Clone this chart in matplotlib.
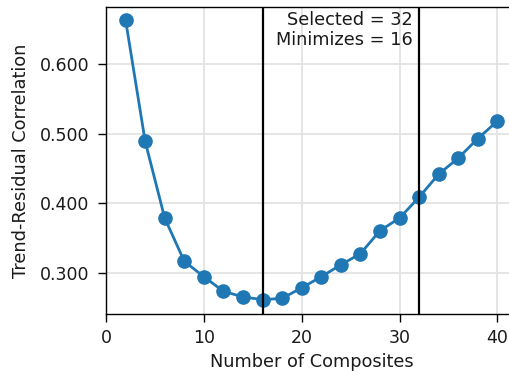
import matplotlib
matplotlib.use("Agg")
import matplotlib.pyplot as plt

n_composites = [2, 4, 6, 8, 10, 12, 14, 16, 18, 20, 22, 24, 26, 28, 30, 32, 34, 36, 38, 40]
correlation = [0.663, 0.489, 0.379, 0.317, 0.295, 0.274, 0.266, 0.262, 0.264, 0.279,
               0.295, 0.312, 0.328, 0.361, 0.379, 0.409, 0.442, 0.465, 0.493, 0.518]
selected = 32
minimizes = 16
x_ticks = [0, 10, 20, 30, 40]
y_ticks = [0.3, 0.4, 0.5, 0.6]

fig = plt.figure(figsize=(5.10, 3.73), dpi=100)
ax = fig.add_axes([106/510, 59/373, 411/510, 307/373])

ax.grid(True, color="#e3e3e3", linewidth=1.3, zorder=0)
ax.plot(n_composites, correlation, "-o", color="#1f77b4", linewidth=2.0,
        markersize=9.5, zorder=3)
ax.axvline(minimizes, color="black", linewidth=1.6, zorder=4)
ax.axvline(selected, color="black", linewidth=1.6, zorder=4)

ax.text(31.3, 0.676, f"Selected = {selected}\nMinimizes = {minimizes}",
        ha="right", va="top", fontsize=12.8, linespacing=1.15, color="#1a1a1a",
        zorder=5)

ax.set_xlim(0, 42)
ax.set_ylim(0.2415, 0.6815)
ax.set_xticks(x_ticks)
ax.set_yticks(y_ticks)
ax.set_yticklabels([f"{v:.3f}" for v in y_ticks])
ax.tick_params(labelsize=12.5, length=6, width=1, pad=5, labelcolor="#1a1a1a")
ax.tick_params(axis="y", pad=6)
ax.set_xlabel("Number of Composites", fontsize=12.8, labelpad=4, color="#1a1a1a")
ax.set_ylabel("Trend-Residual Correlation", fontsize=12.8, labelpad=7, color="#1a1a1a")
for s in ax.spines.values():
    s.set_linewidth(1.0)

fig.savefig("out.png", dpi=100)
